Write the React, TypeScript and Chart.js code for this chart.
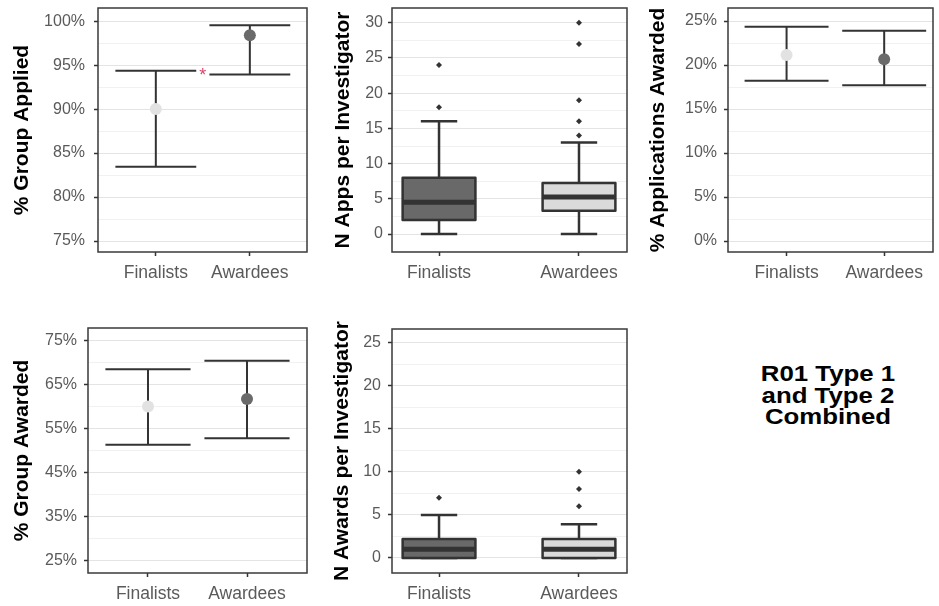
import React, { useEffect, useRef } from 'react';
import { Chart, registerables } from 'chart.js';
Chart.register(...registerables);

const FONT = "'Liberation Sans', Arial, Helvetica, sans-serif";

// ---------- data ----------
const categories = ['Finalists', 'Awardees'];

// % Group Applied (point estimate + CI)
const appliedEst = [90.0, 98.4];
const appliedLow = [83.45, 93.95];
const appliedHigh = [94.35, 99.55];
const appliedSigX = [1.5];
const appliedSigY = [94.4];
const appliedTicks = [75, 80, 85, 90, 95, 100];
const appliedTickLabels = ['75%', '80%', '85%', '90%', '95%', '100%'];

// % Applications Awarded
const appAwardEst = [21.15, 20.65];
const appAwardLow = [18.2, 17.7];
const appAwardHigh = [24.35, 23.9];
const appAwardTicks = [0, 5, 10, 15, 20, 25];
const appAwardTickLabels = ['0%', '5%', '10%', '15%', '20%', '25%'];

// % Group Awarded
const grpAwardEst = [60.1, 61.8];
const grpAwardLow = [51.4, 52.9];
const grpAwardHigh = [68.6, 70.5];
const grpAwardTicks = [25, 35, 45, 55, 65, 75];
const grpAwardTickLabels = ['25%', '35%', '45%', '55%', '65%', '75%'];

// N Apps per Investigator (box plot stats)
const appsWhiskerLow = [0, 0];
const appsQ1 = [2, 3.3];
const appsMedian = [4.5, 5.25];
const appsQ3 = [8, 7.25];
const appsWhiskerHigh = [16, 13];
const appsOutliersFinalists = [18, 24];
const appsOutliersAwardees = [14, 16, 19, 27, 30];
const appsTicks = [0, 5, 10, 15, 20, 25, 30];
const appsTickLabels = ['0', '5', '10', '15', '20', '25', '30'];

// N Awards per Investigator (box plot stats)
const awardsWhiskerLow = [0, 0];
const awardsQ1 = [0, 0];
const awardsMedian = [1, 1];
const awardsQ3 = [2.2, 2.2];
const awardsWhiskerHigh = [5, 3.9];
const awardsOutliersFinalists = [7];
const awardsOutliersAwardees = [6, 8, 10];
const awardsTicks = [0, 5, 10, 15, 20, 25];
const awardsTickLabels = ['0', '5', '10', '15', '20', '25'];

// ---------- styles ----------
const pointColors = ['#e2e2e2', '#6a6a6a'];
const boxFills = ['#696969', '#dadada'];
const LINE = '#333333';
const TITLE_SIZE = 21;
const TITLE_LH = TITLE_SIZE * 1.2;

type Panel = {
  key: string;
  left: number; top: number; width: number; height: number;
  areaLeft: number; areaTop: number; areaRight: number; areaBottom: number;
  yMin: number; yMax: number;
  majors: number[]; majorLabels: string[];
  title: string; titleCenter: number;
  tickPad: number;
  xMin: number; xMax: number;
  kind: 'error' | 'box';
  est?: number[]; low?: number[]; high?: number[];
  sigX?: number[]; sigY?: number[];
  wLow?: number[]; q1?: number[]; med?: number[]; q3?: number[]; wHigh?: number[];
  outF?: number[]; outA?: number[];
};

const panels: Panel[] = [
  {
    key: 'p1', left: 0, top: 0, width: 315, height: 295,
    areaLeft: 98, areaTop: 8, areaRight: 307, areaBottom: 252,
    yMin: 73.75, yMax: 101.5, majors: appliedTicks, majorLabels: appliedTickLabels,
    title: '% Group Applied', titleCenter: 22.5, tickPad: 9,
    xMin: 0.385, xMax: 2.608, kind: 'error',
    est: appliedEst, low: appliedLow, high: appliedHigh, sigX: appliedSigX, sigY: appliedSigY,
  },
  {
    key: 'p2', left: 315, top: 0, width: 320, height: 295,
    areaLeft: 392, areaTop: 8, areaRight: 627, areaBottom: 252,
    yMin: -2.55, yMax: 32.1, majors: appsTicks, majorLabels: appsTickLabels,
    title: 'N Apps per Investigator', titleCenter: 343, tickPad: 5,
    xMin: 0.664, xMax: 2.343, kind: 'box',
    wLow: appsWhiskerLow, q1: appsQ1, med: appsMedian, q3: appsQ3, wHigh: appsWhiskerHigh,
    outF: appsOutliersFinalists, outA: appsOutliersAwardees,
  },
  {
    key: 'p3', left: 630, top: 0, width: 309, height: 295,
    areaLeft: 728, areaTop: 8, areaRight: 938, areaBottom: 252,
    yMin: -1.25, yMax: 26.48, majors: appAwardTicks, majorLabels: appAwardTickLabels,
    title: '% Applications Awarded', titleCenter: 658, tickPad: 7,
    xMin: 0.4, xMax: 2.5, kind: 'error',
    est: appAwardEst, low: appAwardLow, high: appAwardHigh,
  },
  {
    key: 'p4', left: 0, top: 300, width: 315, height: 306,
    areaLeft: 88, areaTop: 328, areaRight: 307, areaBottom: 573,
    yMin: 22.27, yMax: 77.95, majors: grpAwardTicks, majorLabels: grpAwardTickLabels,
    title: '% Group Awarded', titleCenter: 22.5, tickPad: 7,
    xMin: 0.394, xMax: 2.606, kind: 'error',
    est: grpAwardEst, low: grpAwardLow, high: grpAwardHigh,
  },
  {
    key: 'p5', left: 315, top: 300, width: 320, height: 306,
    areaLeft: 392, areaTop: 329, areaRight: 627, areaBottom: 573,
    yMin: -1.75, yMax: 26.6, majors: awardsTicks, majorLabels: awardsTickLabels,
    title: 'N Awards per Investigator', titleCenter: 342, tickPad: 7,
    xMin: 0.664, xMax: 2.343, kind: 'box',
    wLow: awardsWhiskerLow, q1: awardsQ1, med: awardsMedian, q3: awardsQ3, wHigh: awardsWhiskerHigh,
    outF: awardsOutliersFinalists, outA: awardsOutliersAwardees,
  },
];

function minorTicks(p: Panel): number[] {
  const m = p.majors;
  const step = m[1] - m[0];
  const res: number[] = [];
  for (let i = -1; i < m.length; i++) {
    const v = (i < 0 ? m[0] - step : m[i]) + step / 2;
    if (v > p.yMin && v < p.yMax) res.push(v);
  }
  return res;
}

function isMajor(p: Panel, v: number) {
  return p.majors.some((m) => Math.abs(m - v) < 1e-6);
}

function makeChart(canvas: HTMLCanvasElement, p: Panel) {
  const extras = {
    id: 'extras_' + p.key,
    beforeDatasetsDraw(chart: any) {
      const { ctx, scales } = chart;
      const x = scales.x, y = scales.y;
      ctx.save();
      ctx.strokeStyle = LINE;
      ctx.lineCap = 'butt';
      if (p.kind === 'error') {
        ctx.lineWidth = 2;
        for (let i = 0; i < categories.length; i++) {
          const cx = x.getPixelForValue(i + 1);
          const l = x.getPixelForValue(i + 1 - 0.43);
          const r = x.getPixelForValue(i + 1 + 0.43);
          const yl = y.getPixelForValue(p.low![i]);
          const yh = y.getPixelForValue(p.high![i]);
          ctx.beginPath();
          ctx.moveTo(cx, yl); ctx.lineTo(cx, yh);
          ctx.moveTo(l, yl); ctx.lineTo(r, yl);
          ctx.moveTo(l, yh); ctx.lineTo(r, yh);
          ctx.stroke();
        }
      } else {
        for (let i = 0; i < categories.length; i++) {
          const cx = x.getPixelForValue(i + 1);
          const bl = x.getPixelForValue(i + 1 - 0.26);
          const br = x.getPixelForValue(i + 1 + 0.26);
          const cl = x.getPixelForValue(i + 1 - 0.13);
          const cr = x.getPixelForValue(i + 1 + 0.13);
          const yLo = y.getPixelForValue(p.wLow![i]);
          const yQ1 = y.getPixelForValue(p.q1![i]);
          const yMed = y.getPixelForValue(p.med![i]);
          const yQ3 = y.getPixelForValue(p.q3![i]);
          const yHi = y.getPixelForValue(p.wHigh![i]);
          ctx.lineWidth = 2.5;
          ctx.beginPath();
          ctx.moveTo(cx, yHi); ctx.lineTo(cx, yQ3);
          ctx.moveTo(cx, yQ1); ctx.lineTo(cx, yLo);
          ctx.moveTo(cl, yHi); ctx.lineTo(cr, yHi);
          ctx.moveTo(cl, yLo); ctx.lineTo(cr, yLo);
          ctx.stroke();
          ctx.fillStyle = boxFills[i];
          ctx.lineJoin = 'round';
          ctx.beginPath();
          ctx.rect(bl, yQ3, br - bl, yQ1 - yQ3);
          ctx.fill();
          ctx.stroke();
          ctx.lineWidth = 5;
          ctx.beginPath();
          ctx.moveTo(bl, yMed); ctx.lineTo(br, yMed);
          ctx.stroke();
        }
      }
      ctx.restore();
    },
    afterDatasetsDraw(chart: any) {
      if (!p.sigX) return;
      const { ctx, scales } = chart;
      ctx.save();
      ctx.fillStyle = '#d9466a';
      ctx.font = `18px ${FONT}`;
      ctx.textAlign = 'center';
      ctx.textBaseline = 'alphabetic';
      for (let i = 0; i < p.sigX.length; i++) {
        const px = scales.x.getPixelForValue(p.sigX[i]);
        const py = scales.y.getPixelForValue(p.sigY![i]);
        ctx.fillText('*', px, py + 0.57 * 18);
      }
      ctx.restore();
    },
    afterDraw(chart: any) {
      const { ctx, chartArea } = chart;
      ctx.save();
      ctx.strokeStyle = '#3a3a3a';
      ctx.lineWidth = 1.5;
      ctx.strokeRect(chartArea.left, chartArea.top, chartArea.right - chartArea.left, chartArea.bottom - chartArea.top);
      ctx.restore();
    },
  };

  const datasets: any[] = [];
  if (p.kind === 'error') {
    datasets.push({
      data: p.est!.map((v, i) => ({ x: i + 1, y: v })),
      pointRadius: 6,
      pointBackgroundColor: pointColors,
      pointBorderWidth: 0,
      showLine: false,
    });
  } else {
    datasets.push({
      data: [
        ...p.outF!.map((v) => ({ x: 1, y: v })),
        ...p.outA!.map((v) => ({ x: 2, y: v })),
      ],
      pointStyle: 'rectRot',
      pointRadius: 3,
      pointBackgroundColor: LINE,
      pointBorderWidth: 0,
      showLine: false,
    });
  }

  const allTicks = [...p.majors, ...minorTicks(p)].sort((a, b) => a - b);
  const yWidth = p.areaLeft - p.left;
  const xHeight = p.top + p.height - p.areaBottom;

  return new Chart(canvas, {
    type: 'scatter',
    data: { datasets },
    options: {
      animation: false,
      responsive: false,
      devicePixelRatio: 1,
      events: [],
      layout: {
        padding: {
          left: 0,
          top: p.areaTop - p.top,
          right: p.left + p.width - p.areaRight,
          bottom: 0,
        },
      },
      plugins: { legend: { display: false }, tooltip: { enabled: false } },
      scales: {
        x: {
          type: 'linear',
          min: p.xMin,
          max: p.xMax,
          afterBuildTicks: (s: any) => { s.ticks = categories.map((_, i) => ({ value: i + 1 })); },
          afterFit: (s: any) => {
            s.height = xHeight;
            s.paddingLeft = 0; s.paddingRight = 0; s.paddingTop = 0; s.paddingBottom = 0;
          },
          ticks: {
            autoSkip: false,
            maxRotation: 0,
            minRotation: 0,
            padding: 7,
            color: '#5a5a5a',
            font: { family: FONT, size: 17.5 },
            callback: (v: any) => categories[Math.round(Number(v)) - 1],
          },
          grid: {
            display: true,
            drawOnChartArea: false,
            color: 'transparent',
            tickColor: LINE,
            tickLength: 4,
            tickWidth: 1.5,
          },
          border: { display: false },
        },
        y: {
          type: 'linear',
          min: p.yMin,
          max: p.yMax,
          afterBuildTicks: (s: any) => { s.ticks = allTicks.map((v) => ({ value: v })); },
          afterFit: (s: any) => {
            s.width = yWidth;
            s.paddingLeft = 0; s.paddingRight = 0; s.paddingTop = 0; s.paddingBottom = 0;
          },
          ticks: {
            autoSkip: false,
            padding: p.tickPad,
            color: '#5a5a5a',
            font: { family: FONT, size: 16 },
            callback: (v: any) => {
              const idx = p.majors.findIndex((m) => Math.abs(m - Number(v)) < 1e-6);
              return idx >= 0 ? p.majorLabels[idx] : '';
            },
          },
          grid: {
            display: true,
            drawOnChartArea: true,
            color: (c: any) => (c.tick && isMajor(p, c.tick.value) ? '#e4e4e4' : '#f1f1f1'),
            lineWidth: 1,
            tickColor: (c: any) => (c.tick && isMajor(p, c.tick.value) ? LINE : 'transparent'),
            tickLength: 4,
            tickWidth: 1.5,
          },
          border: { display: false },
          title: {
            display: true,
            text: p.title,
            color: '#000000',
            font: { family: FONT, size: TITLE_SIZE, weight: 'bold' },
            padding: { top: p.titleCenter - p.left - TITLE_LH / 2, bottom: 0 },
          },
        },
      },
    } as any,
    plugins: [extras as any],
  });
}

function PanelChart({ p }: { p: Panel }) {
  const ref = useRef<HTMLCanvasElement | null>(null);
  useEffect(() => {
    if (!ref.current) return;
    const chart = makeChart(ref.current, p);
    return () => chart.destroy();
  }, [p]);
  return (
    <canvas
      ref={ref}
      width={p.width}
      height={p.height}
      style={{ position: 'absolute', left: p.left, top: p.top, width: p.width, height: p.height }}
    />
  );
}

const noteLines = ['R01 Type 1', 'and Type 2', 'Combined'];

export default function App() {
  useEffect(() => {
    document.body.style.margin = '0';
    document.body.style.background = '#ffffff';
  }, []);
  return (
    <div style={{ position: 'absolute', left: 0, top: 0, width: 939, height: 606, background: '#ffffff', overflow: 'hidden' }}>
      {panels.map((p) => (
        <PanelChart key={p.key} p={p} />
      ))}
      <div
        style={{
          position: 'absolute',
          left: 728,
          top: 364,
          width: 200,
          textAlign: 'center',
          fontFamily: FONT,
          fontWeight: 'bold',
          fontSize: 21.5,
          lineHeight: '21.7px',
          color: '#000000',
          transform: 'scaleX(1.2)',
          transformOrigin: '100px 0px',
        }}
      >
        {noteLines.map((l) => (
          <div key={l}>{l}</div>
        ))}
      </div>
    </div>
  );
}
